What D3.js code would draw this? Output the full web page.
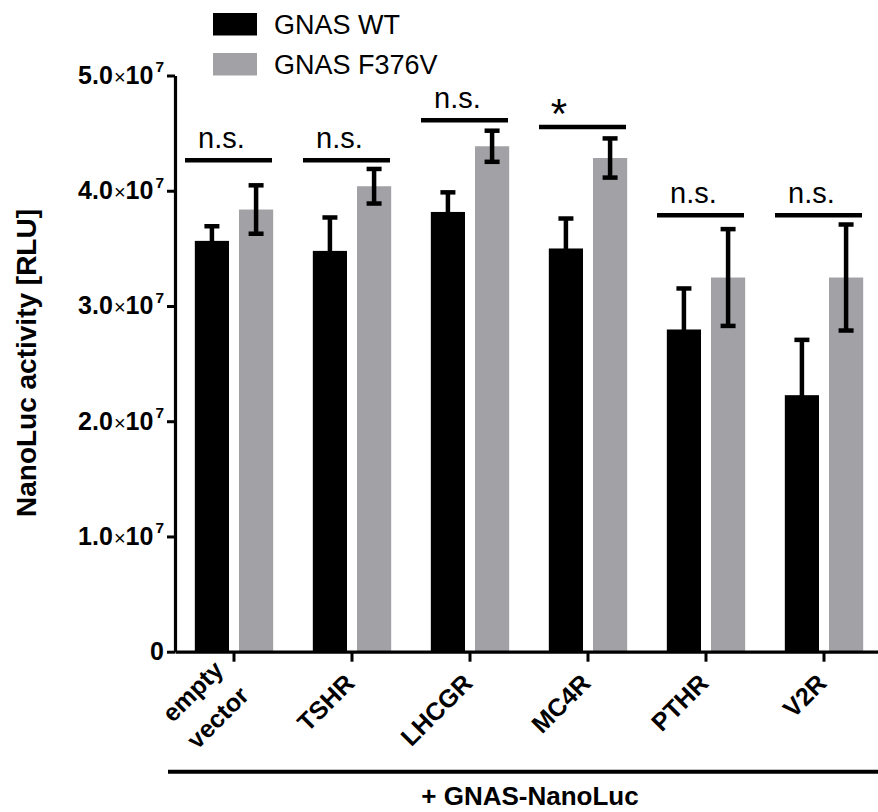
<!DOCTYPE html>
<html>
<head>
<meta charset="utf-8">
<script src="https://cdn.jsdelivr.net/npm/d3@7"></script>
<style>
body { margin: 0; background: #fff; }
text { font-family: "Liberation Sans", Arial, sans-serif; }
</style>
</head>
<body>
<div id="vis"></div>
<script>
// frame
const FRAME_WIDTH = 878;
const FRAME_HEIGHT = 812;
const MARGINS = {left: 175, top: 75.5, right: -5};
const AXIS_Y = 651.7;
const VIS_HEIGHT = AXIS_Y - MARGINS.top;
const VIS_WIDTH = FRAME_WIDTH - MARGINS.left - MARGINS.right;

// data (RLU)
const CATEGORIES = ["empty vector", "TSHR", "LHCGR", "MC4R", "PTHR", "V2R"];
const SERIES = ["GNAS WT", "GNAS F376V"];
const WT_MEAN = [3.565e7, 3.478e7, 3.816e7, 3.499e7, 2.796e7, 2.226e7];
const WT_SEM = [0.127e7, 0.29e7, 0.17e7, 0.26e7, 0.356e7, 0.48e7];
const MUT_MEAN = [3.837e7, 4.039e7, 4.386e7, 4.284e7, 3.247e7, 3.247e7];
const MUT_SEM = [0.21e7, 0.15e7, 0.135e7, 0.17e7, 0.42e7, 0.46e7];
const SIG_LABELS = ["n.s.", "n.s.", "n.s.", "*", "n.s.", "n.s."];
const SIG_LEVEL = [4.265e7, 4.265e7, 4.611e7, 4.553e7, 3.787e7, 3.787e7];
const Y_TICKS = [0, 1e7, 2e7, 3e7, 4e7, 5e7];
const Y_TICK_LABELS = ["0", "1.0", "2.0", "3.0", "4.0", "5.0"];
const COLORS = ["#000000", "#a2a1a6"];

const MEANS = [WT_MEAN, MUT_MEAN];
const SEMS = [WT_SEM, MUT_SEM];

function build_barchart(){
  const FRAME = d3.select("#vis")
    .append("svg")
    .attr("width", FRAME_WIDTH)
    .attr("height", FRAME_HEIGHT);

  // scales
  const X_SCALE = d3.scaleBand()
                    .domain(CATEGORIES)
                    .range([0, VIS_WIDTH])
                    .paddingInner(0.336)
                    .paddingOuter(0.168);

  const X_SUB = d3.scaleBand()
                  .domain(SERIES)
                  .range([0, X_SCALE.bandwidth()])
                  .paddingInner(0.226);

  const Y_SCALE = d3.scaleLinear()
                    .domain([0, 5e7])
                    .range([VIS_HEIGHT, 0]);

  const G = FRAME.append("g")
    .attr("transform", "translate(" + MARGINS.left + "," + MARGINS.top + ")");

  // flatten rows
  const rows = [];
  CATEGORIES.forEach((c, i) => {
    SERIES.forEach((s, j) => {
      rows.push({cat: c, ser: s, j: j, mean: MEANS[j][i], sem: SEMS[j][i]});
    });
  });

  // bars
  G.selectAll(".bar")
    .data(rows)
    .enter()
    .append("rect")
    .attr("x", d => X_SCALE(d.cat) + X_SUB(d.ser))
    .attr("y", d => Y_SCALE(d.mean))
    .attr("width", X_SUB.bandwidth())
    .attr("height", d => Y_SCALE(0) - Y_SCALE(d.mean))
    .attr("fill", d => COLORS[d.j]);

  // error bars
  const errs = G.selectAll(".err")
    .data(rows)
    .enter()
    .append("g")
    .attr("transform", d => "translate(" + (X_SCALE(d.cat) + X_SUB(d.ser) + X_SUB.bandwidth() / 2) + ",0)");

  errs.append("line")
    .attr("y1", d => Y_SCALE(d.mean - d.sem))
    .attr("y2", d => Y_SCALE(d.mean + d.sem))
    .attr("stroke", "#000").attr("stroke-width", 4.5);
  errs.append("line")
    .attr("x1", -7.5).attr("x2", 7.5)
    .attr("y1", d => Y_SCALE(d.mean + d.sem))
    .attr("y2", d => Y_SCALE(d.mean + d.sem))
    .attr("stroke", "#000").attr("stroke-width", 4.5);
  errs.append("line")
    .attr("x1", -7.5).attr("x2", 7.5)
    .attr("y1", d => Y_SCALE(d.mean - d.sem))
    .attr("y2", d => Y_SCALE(d.mean - d.sem))
    .attr("stroke", "#000").attr("stroke-width", 4.5);

  // significance bars
  const sig = G.selectAll(".sig")
    .data(CATEGORIES)
    .enter()
    .append("g")
    .attr("transform", (d, i) => "translate(" + (X_SCALE(d) + X_SCALE.bandwidth() / 2) + "," + Y_SCALE(SIG_LEVEL[i]) + ")");

  sig.append("line")
    .attr("x1", -49).attr("x2", 38)
    .attr("stroke", "#000").attr("stroke-width", 4.5);

  sig.append("text")
    .attr("x", (d, i) => SIG_LABELS[i] === "*" ? -29 : -36)
    .attr("y", (d, i) => SIG_LABELS[i] === "*" ? 1 : -12.7)
    .attr("text-anchor", (d, i) => SIG_LABELS[i] === "*" ? "middle" : "start")
    .attr("font-size", (d, i) => SIG_LABELS[i] === "*" ? "42px" : "29px")
    .text((d, i) => SIG_LABELS[i]);

  // x axis
  const xAxis = G.append("g")
    .attr("transform", "translate(0," + VIS_HEIGHT + ")")
    .call(d3.axisBottom(X_SCALE).tickSize(10).tickSizeOuter(0).tickFormat(""));
  xAxis.select(".domain").attr("stroke-width", 3.2);
  xAxis.selectAll(".tick line").attr("stroke-width", 3);

  // x labels, rotated 45 degrees (matrix form)
  const C45 = Math.SQRT1_2;
  const xl = G.selectAll(".xlab")
    .data(CATEGORIES)
    .enter()
    .append("text")
    .attr("transform", d => "matrix(" + C45 + "," + (-C45) + "," + C45 + "," + C45 + "," +
          (X_SCALE(d) + X_SCALE.bandwidth() / 2 + 4) + "," + (VIS_HEIGHT + 33) + ")")
    .style("transform", d => "translate(" + (X_SCALE(d) + X_SCALE.bandwidth() / 2 + 4) + "px," +
          (VIS_HEIGHT + 33) + "px) rotate(-45deg)")
    .attr("text-anchor", "end")
    .attr("font-size", "25px")
    .attr("font-weight", "bold");
  xl.each(function(d){
    const parts = d.split(" ");
    const t = d3.select(this);
    parts.forEach((p, k) => {
      t.append("tspan")
        .attr("x", 0)
        .attr("dy", parts.length === 1 ? 0 : (k === 0 ? "-0.75em" : "1.45em"))
        .text(p);
    });
  });

  // y axis
  const yAxis = G.append("g")
    .call(d3.axisLeft(Y_SCALE).tickValues(Y_TICKS).tickSize(8).tickSizeOuter(0));
  yAxis.select(".domain").attr("stroke-width", 3.2);
  yAxis.selectAll(".tick line").attr("stroke-width", 3);
  yAxis.selectAll(".tick text")
    .attr("font-size", "25px")
    .attr("font-weight", "bold")
    .attr("fill", "#000")
    .attr("font-family", "'Liberation Sans', Arial, sans-serif")
    .each(function(d, i){
      const t = d3.select(this).text(null);
      if (d === 0) { t.text(Y_TICK_LABELS[i]); return; }
      t.append("tspan").text(Y_TICK_LABELS[i]);
      t.append("tspan").attr("font-weight", "normal").attr("font-size", "0.8em").attr("dx", "1").text("\u00d7");
      t.append("tspan").text("10");
      t.append("tspan").attr("font-size", "0.62em").attr("dy", "-0.75em").attr("dx", "2").text("7");
    });

  // y title
  FRAME.append("text")
    .attr("transform", "translate(36," + 363 + ") rotate(-90)")
    .attr("text-anchor", "middle")
    .attr("font-size", "28px")
    .attr("font-weight", "bold")
    .text("NanoLuc activity [RLU]");

  // bottom bracket line and label
  G.append("line")
    .attr("x1", -7).attr("x2", VIS_WIDTH)
    .attr("y1", 771.7 - MARGINS.top).attr("y2", 771.7 - MARGINS.top)
    .attr("stroke", "#000").attr("stroke-width", 4);

  G.append("text")
    .attr("x", 355)
    .attr("y", 805 - MARGINS.top)
    .attr("text-anchor", "middle")
    .attr("font-size", "26px")
    .attr("font-weight", "bold")
    .text("+ GNAS-NanoLuc");

  // legend
  const LEG = FRAME.append("g").attr("transform", "translate(213,13)");
  const li = LEG.selectAll(".leg")
    .data(SERIES)
    .enter()
    .append("g")
    .attr("transform", (d, j) => "translate(0," + (j * 40) + ")");
  li.append("rect")
    .attr("width", 44).attr("height", 22.5)
    .attr("fill", (d, j) => COLORS[j]);
  li.append("text")
    .attr("x", 61).attr("y", 20.5)
    .attr("font-size", "27px")
    .text(d => d);
}

build_barchart()
</script>
</body>
</html>
